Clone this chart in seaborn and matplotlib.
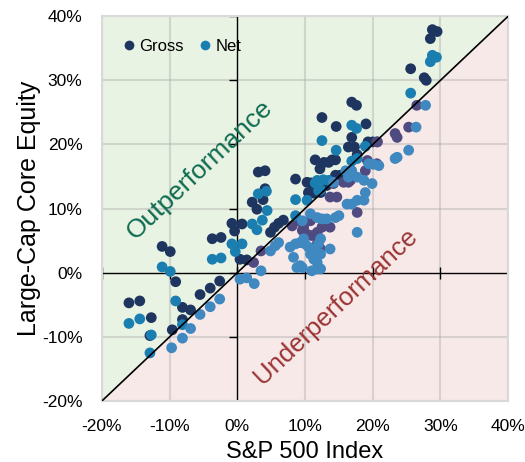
import numpy as np
import pandas as pd
import matplotlib
matplotlib.use("Agg")
import matplotlib.pyplot as plt
from matplotlib.lines import Line2D
import seaborn as sns


# Annual returns (%): S&P 500 (x) vs Large-Cap Core Equity (y)
gross_x = [-16.0, -14.4, -12.7, -12.9, -9.6, -8.1, -8.1, -6.9, -5.5, -4.0, -2.6, -9.1,
           -11.1, -9.9, -3.7, -2.4, -0.8, -0.4,
           0.4, 1.4, 0.7, 2.4, 3.5, 2.2, 2.9, 3.8, 4.1, 3.1, 4.1, 4.9, 5.5, 6.1,
           8.6, 10.3, 10.9, 11.3, 10.5, 12.3, 11.5, 12.2, 12.8, 13.5, 14.0, 14.5,
           14.5, 15.2, 13.2, 14.2, 12.5, 14.6, 6.8,
           16.9, 17.6, 19.0, 16.9, 16.4, 17.3, 17.7, 19.3, 20.0, 20.7,
           28.8, 29.5, 28.5, 25.6, 27.6, 27.9,
           8.1, 8.8, 9.6, 10.3, 11.0, 11.8, 12.5, 13.7, 10.8, 11.8, 12.3, 9.8,
           11.3, 17.7, 16.4, 16.7, 15.7, 19.2, 19.6, 18.9, 20.6, 23.3, 23.6,
           25.3, 26.5, 14.7, 13.7, 20.6]
gross_y = [-4.7, -4.4, -7.0, -9.8, -8.9, -7.3, -5.4, -5.8, -3.4, -2.4, -1.3, -1.4,
           4.1, 3.3, 5.3, 5.5, 7.7, 6.5,
           2.1, 2.0, 7.6, 1.6, 3.4, 11.0, 9.9, 11.4, 13.1, 15.7, 15.9, 6.3, 7.1, 7.7,
           14.6, 14.1, 14.0, 12.4, 12.5, 12.5, 17.6, 16.2, 17.2, 17.2, 17.6, 17.6,
           15.2, 15.2, 13.6, 13.9, 24.2, 22.8, 8.2,
           26.6, 26.1, 23.2, 21.1, 19.6, 19.6, 18.4, 20.4, 20.4, 20.4,
           37.9, 37.6, 36.5, 31.8, 30.4, 30.0,
           7.3, 8.1, 6.6, 6.0, 5.8, 6.3, 7.1, 7.1, 8.1, 4.5, 3.7, 7.1,
           3.4, 9.4, 14.1, 14.4, 14.1, 17.5, 17.0, 15.9, 20.4, 21.7, 21.1,
           22.7, 26.1, 11.8, 11.8, 17.0]

net_x = [-16.0, -14.4, -12.7, -12.9, -9.7, -8.1, -8.1, -6.9, -5.5, -4.0, -2.6, -9.1,
         -11.1, -9.9, -3.7, -2.4, -0.8, -0.3,
         0.4, 1.4, 0.7, 2.5, 3.5, 2.2, 2.9, 3.7, 4.4, 3.1, 4.3, 4.9, 5.6, 6.1,
         8.6, 10.3, 11.5, 11.8, 12.7, 13.5, 14.2, 12.0, 12.3, 12.5, 14.6, 16.0,
         16.9, 16.4, 16.9, 17.6, 18.9, 16.9, 17.7, 25.6, 28.8, 29.4, 28.5,
         8.6, 9.6, 10.8, 11.8, 12.5, 13.2, 14.5, 15.0, 16.2, 16.9, 17.7,
         8.6, 9.3, 10.0, 10.5, 11.3, 12.0, 12.3, 10.8, 11.5, 12.3, 11.3, 11.8,
         9.6, 11.0, 11.8, 13.7, 17.7, 7.8, 8.3, 9.3, 9.8,
         17.7, 18.7, 19.9, 18.9, 18.7, 19.4, 20.1, 20.9, 23.3, 23.6, 25.3,
         26.4, 27.8, 8.8, 12.3]
net_y = [-7.9, -7.2, -9.7, -12.5, -11.7, -10.2, -8.1, -8.7, -6.5, -5.3, -4.1, -4.4,
         0.9, 0.2, 2.1, 2.3, 4.5, 3.3,
         -1.0, -0.8, 4.5, -1.7, 0.3, 7.6, 6.7, 8.2, 9.7, 12.3, 12.7, 3.4, 4.2, 4.7,
         11.4, 11.3, 14.0, 14.4, 14.5, 14.4, 14.1, 12.8, 12.9, 20.6, 19.1, 15.9,
         15.9, 14.9, 23.0, 22.5, 19.7, 17.4, 17.8, 28.0, 33.9, 33.6, 32.9,
         8.9, 8.1, 9.2, 8.6, 8.4, 8.4, 8.6, 8.9, 10.7, 10.7, 11.3,
         4.5, 4.7, 4.5, 4.0, 3.7, 4.5, 5.3, 2.9, 3.2, 2.9, 2.1, 1.6,
         0.8, 0.3, 0.6, 3.7, 6.3, 4.0, 2.4, 1.1, 5.3,
         14.9, 14.4, 13.9, 12.5, 11.3, 17.0, 16.9, 16.7, 17.8, 18.0, 19.1,
         22.7, 26.1, 0.8, 0.6]

ticks = [-20, -10, 0, 10, 20, 30, 40]
tick_labels = ["-20%", "-10%", "0%", "10%", "20%", "30%", "40%"]

colors = {
    "Gross above": "#1e3560",
    "Gross below": "#4f4a80",
    "Net above": "#1a7fb0",
    "Net below": "#3f88c0",
}

df = pd.concat([
    pd.DataFrame({"x": gross_x, "y": gross_y, "series": "Gross"}),
    pd.DataFrame({"x": net_x, "y": net_y, "series": "Net"}),
], ignore_index=True)
df["kind"] = df["series"] + np.where(df["y"] >= df["x"], " above", " below")

sns.set_style("white")
plt.rcParams["font.family"] = ["Liberation Sans", "DejaVu Sans"]
plt.rcParams["text.color"] = "black"
plt.rcParams["axes.labelcolor"] = "black"

fig, ax = plt.subplots(figsize=(5.25, 4.62), dpi=100)
fig.subplots_adjust(left=0.194, right=0.968, top=0.965, bottom=0.132)

lo, hi = -20, 40
# shaded halves of the chart
ax.fill([lo, lo, hi], [lo, hi, hi], color="#e9f3e3", lw=0, zorder=0)
ax.fill([lo, hi, hi], [lo, lo, hi], color="#f8e9e9", lw=0, zorder=0)

for t in ticks:
    if t != 0:
        ax.axhline(t, color="#a8a8a8", alpha=0.4, lw=1.5, zorder=1)
        ax.axvline(t, color="#a8a8a8", alpha=0.4, lw=1.5, zorder=1)

# zero axes with their tick marks
ax.plot([lo, hi], [0, 0], color="black", lw=1, zorder=2)
ax.plot([0, 0], [lo, hi], color="black", lw=1, zorder=2)
ax.plot(ticks, [0] * len(ticks), ls="none", marker="|", ms=8, mew=1, color="black", zorder=2)
ax.plot([0] * len(ticks), ticks, ls="none", marker=0, ms=6, mew=1, color="black", zorder=2)

sns.scatterplot(data=df, x="x", y="y", hue="kind", palette=colors, s=60,
                linewidth=0, legend=False, ax=ax, zorder=3)

ax.plot([lo, hi], [lo, hi], color="black", lw=1.2, zorder=4)

ax.text(-5.5, 16.0, "Outperformance", rotation=43.4, rotation_mode="anchor",
        ha="center", va="center", fontsize=19, color="#0e6b50", zorder=5)
ax.text(14.6, -5.2, "Underperformance", rotation=43.4, rotation_mode="anchor",
        ha="center", va="center", fontsize=18.5, color="#9b3434", zorder=5)

ax.set_xlim(lo, hi)
ax.set_ylim(lo, hi)
ax.set_xticks(ticks)
ax.set_yticks(ticks)
ax.set_xticklabels(tick_labels)
ax.set_yticklabels(tick_labels)
ax.tick_params(axis="both", length=0, labelsize=12.5, colors="black")
ax.tick_params(axis="x", pad=13)
ax.tick_params(axis="y", pad=14)
for sp in ax.spines.values():
    sp.set_color("#d9d9d9")
    sp.set_linewidth(1.5)

ax.set_xlabel("S&P 500 Index", fontsize=17, color="black")
ax.set_ylabel("Large-Cap Core Equity", fontsize=18, color="black")
ax.xaxis.set_label_coords(0.5, -0.105)
ax.yaxis.set_label_coords(-0.15, 0.5)

handles = [Line2D([], [], ls="none", marker="o", ms=7, mew=0, color=colors["Gross above"]),
           Line2D([], [], ls="none", marker="o", ms=7, mew=0, color=colors["Net above"])]
ax.legend(handles, ["Gross", "Net"], ncol=2, frameon=False, fontsize=12,
          loc="upper left", bbox_to_anchor=(0.01, 0.98), handletextpad=0.1,
          columnspacing=0.8, handlelength=1.0, labelcolor="black")

plt.savefig("out.png", dpi=100)
